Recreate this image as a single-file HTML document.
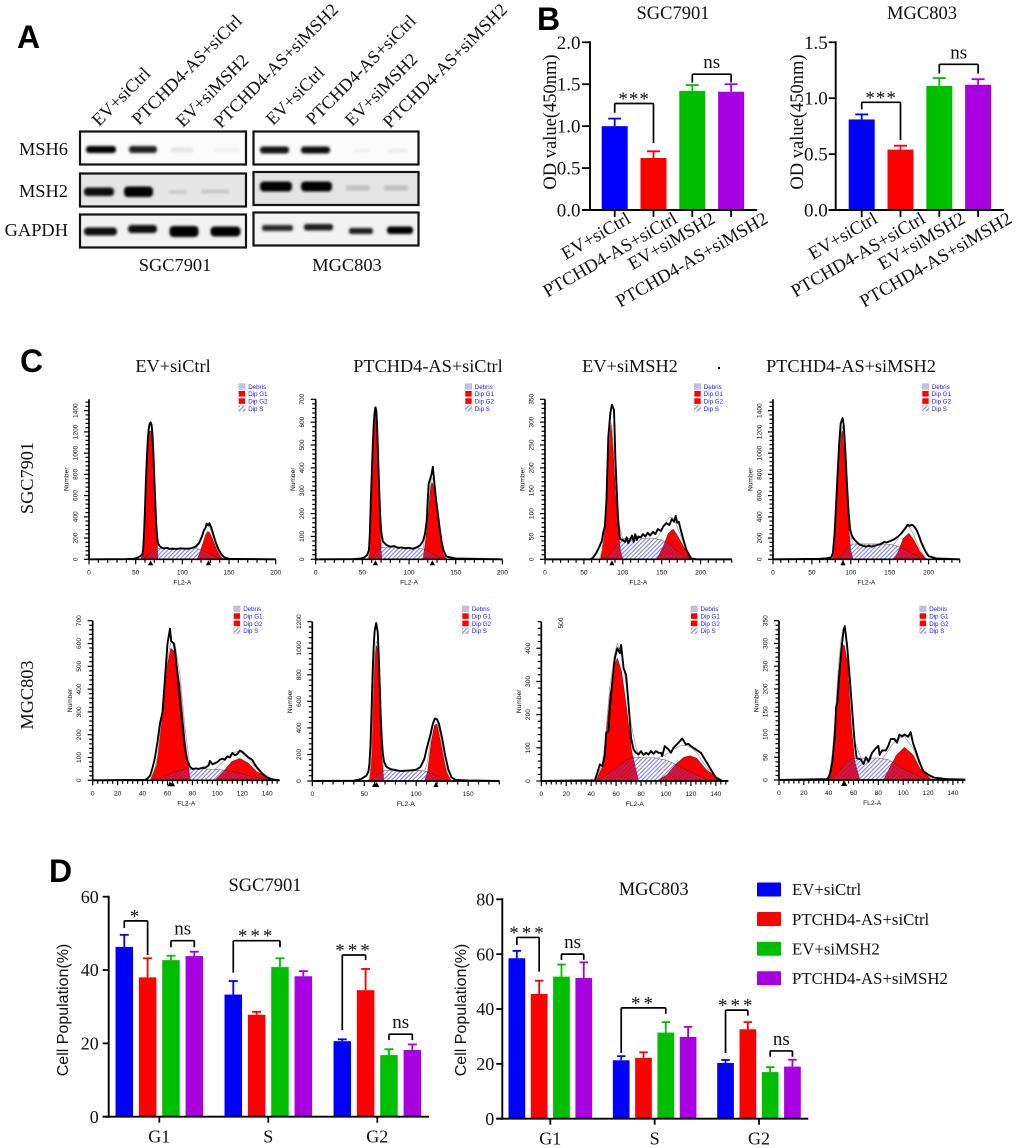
<!DOCTYPE html>
<html lang="en">
<head>
<meta charset="utf-8">
<title>PTCHD4-AS and MSH2 figure</title>
<style>
html,body{margin:0;padding:0;background:#fff;}
svg{display:block;}
text{fill:#111;}
.serif{font-family:"Liberation Serif",serif;}
.sans{font-family:"Liberation Sans",sans-serif;}
.panel{font-family:"Liberation Sans",sans-serif;font-weight:bold;font-size:32px;fill:#000;}
.blot-label{font-family:"Liberation Serif",serif;font-size:18.4px;}
</style>
</head>
<body>
<svg id="figure" xmlns="http://www.w3.org/2000/svg" width="1020" height="1148" viewBox="0 0 1020 1148">
<defs>
  <filter id="band-blur" x="-20%" y="-80%" width="140%" height="260%"><feGaussianBlur stdDeviation="1.3"/></filter>
  <filter id="soft" x="-2%" y="-2%" width="104%" height="104%"><feGaussianBlur stdDeviation="0.25"/></filter>
  <pattern id="s-hatch" width="3" height="3" patternUnits="userSpaceOnUse" patternTransform="rotate(45)">
    <rect width="1.1" height="3" fill="#4a4ae0" opacity="0.7"/>
  </pattern>
</defs>
<rect width="1020" height="1148" fill="#fff"/>

<text class="panel" x="17" y="48">A</text>
<text class="panel" x="537" y="30">B</text>
<text class="panel" x="20" y="372">C</text>
<text class="panel" x="49" y="882">D</text>

<g>
  <g class="serif" style="font-size:18px">
    <text transform="translate(99,127) rotate(-45)">EV+siCtrl</text>
    <text transform="translate(139,126) rotate(-45)">PTCHD4-AS+siCtrl</text>
    <text transform="translate(183,128) rotate(-45)">EV+siMSH2</text>
    <text transform="translate(221,129) rotate(-45)">PTCHD4-AS+siMSH2</text>
    <text transform="translate(273,126) rotate(-45)">EV+siCtrl</text>
    <text transform="translate(313,126) rotate(-45)">PTCHD4-AS+siCtrl</text>
    <text transform="translate(352,127) rotate(-45)">EV+siMSH2</text>
    <text transform="translate(390,129) rotate(-45)">PTCHD4-AS+siMSH2</text>
  </g>
  <text class="blot-label" x="68" y="155" text-anchor="end">MSH6</text>
  <text class="blot-label" x="68" y="197" text-anchor="end">MSH2</text>
  <text class="blot-label" x="68" y="236" text-anchor="end">GAPDH</text>
  <text class="blot-label" x="175" y="271" text-anchor="middle">SGC7901</text>
  <text class="blot-label" x="347" y="271" text-anchor="middle">MGC803</text>

  <rect x="80" y="131.5" width="166" height="33" fill="#fbfbfb" stroke="#111" stroke-width="2.2"/>
  <rect x="80" y="173.5" width="166" height="33" fill="#e6e6e6" stroke="#111" stroke-width="2.2"/>
  <rect x="80" y="214.5" width="166" height="33" fill="#f2f2f2" stroke="#111" stroke-width="2.2"/>
  <rect x="253.5" y="131.5" width="165" height="33" fill="#fbfbfb" stroke="#111" stroke-width="2.2"/>
  <rect x="253.5" y="172" width="165" height="33" fill="#e4e4e4" stroke="#111" stroke-width="2.2"/>
  <rect x="253.5" y="212.5" width="165" height="33" fill="#f3f3f3" stroke="#111" stroke-width="2.2"/>

  <g filter="url(#band-blur)">
    <rect x="86" y="146" width="30" height="7" rx="3" fill="#050505"/>
    <rect x="129" y="146" width="28" height="7" rx="3" fill="#202020"/>
    <rect x="171" y="147.5" width="22" height="5" rx="2" fill="#e4e4e4"/>
    <rect x="214" y="148.5" width="26" height="3.5" rx="1.5" fill="#f1f1f1"/>
    <rect x="84" y="187.5" width="30" height="8.5" rx="3.5" fill="#111"/>
    <rect x="124" y="186.5" width="29" height="10.5" rx="4" fill="#030303"/>
    <rect x="169" y="190" width="18" height="4" rx="1.5" fill="#cccccc"/>
    <rect x="201" y="189.5" width="28" height="4" rx="1.5" fill="#c8c8c8"/>
    <rect x="84" y="227.5" width="33" height="8" rx="3.5" fill="#0a0a0a"/>
    <rect x="128" y="225" width="29" height="8" rx="3.5" fill="#0d0d0d"/>
    <rect x="169.5" y="226" width="29" height="11" rx="4" fill="#000"/>
    <rect x="210.5" y="226.5" width="30" height="10" rx="4" fill="#030303"/>
    <rect x="260" y="146.5" width="29" height="7" rx="3" fill="#141414"/>
    <rect x="301" y="146.5" width="29" height="7" rx="3" fill="#0c0c0c"/>
    <rect x="353" y="149" width="17" height="3.5" rx="1.5" fill="#f0f0f0"/>
    <rect x="388" y="149" width="20" height="3.5" rx="1.5" fill="#ebebeb"/>
    <rect x="260" y="181.5" width="32" height="10" rx="4" fill="#020202"/>
    <rect x="301" y="181.5" width="31" height="10" rx="4" fill="#020202"/>
    <rect x="346" y="185.5" width="24" height="5" rx="2" fill="#c0c0c0"/>
    <rect x="384" y="185.5" width="24" height="5" rx="2" fill="#c0c0c0"/>
    <rect x="262" y="225" width="31" height="6" rx="2.5" fill="#2a2a2a"/>
    <rect x="304" y="224" width="29" height="6.5" rx="2.5" fill="#1a1a1a"/>
    <rect x="349" y="228" width="24" height="6" rx="2.5" fill="#1a1a1a"/>
    <rect x="387" y="226.5" width="26" height="7.5" rx="3" fill="#050505"/>
  </g>
</g>

<text class="serif" style="font-size:18.3px" transform="translate(33,478) rotate(-90)" text-anchor="middle">SGC7901</text>
<text class="serif" style="font-size:18.3px" transform="translate(33,695) rotate(-90)" text-anchor="middle">MGC803</text>
<g class="serif" style="font-size:18.3px">
  <text x="173" y="372" text-anchor="middle">EV+siCtrl</text>
  <text x="428" y="372" text-anchor="middle">PTCHD4-AS+siCtrl</text>
  <text x="630" y="372" text-anchor="middle">EV+siMSH2</text>
  <text x="851" y="372" text-anchor="middle">PTCHD4-AS+siMSH2</text>
</g>
<rect x="718" y="367" width="2" height="2" fill="#111"/>

<g>
  <rect x="757" y="882.5" width="24" height="14" rx="1" fill="#0000ff"/>
  <rect x="757" y="912" width="24" height="14" rx="1" fill="#ff0000"/>
  <rect x="757" y="941.7" width="24" height="14" rx="1" fill="#00bf00"/>
  <rect x="757" y="971.3" width="24" height="14" rx="1" fill="#a800e0"/>
  <g class="serif" style="font-size:16.8px">
    <text x="792" y="895">EV+siCtrl</text>
    <text x="792" y="925">PTCHD4-AS+siCtrl</text>
    <text x="792" y="954.5">EV+siMSH2</text>
    <text x="792" y="984">PTCHD4-AS+siMSH2</text>
  </g>
</g>
</svg>

<script>
/* ---------- shared categories ---------- */
const treatments = ['EV+siCtrl', 'PTCHD4-AS+siCtrl', 'EV+siMSH2', 'PTCHD4-AS+siMSH2'];
const phases = ['G1', 'S', 'G2'];
const barColors = ['#0000ff', '#ff0000', '#00bf00', '#a800e0'];

/* ---------- panel B: OD value ---------- */
const odSgcMeans = [1.00, 0.62, 1.42, 1.41];
const odSgcErrors = [0.09, 0.08, 0.07, 0.09];
const odMgcMeans = [0.81, 0.54, 1.11, 1.12];
const odMgcErrors = [0.045, 0.035, 0.07, 0.05];
const odSgcTicks = ['0.0', '0.5', '1.0', '1.5', '2.0'];
const odMgcTicks = ['0.0', '0.5', '1.0', '1.5'];
/* bracket rows: group, first bar, last bar, left end, top, right end, label */
const odSgcBrackets = [[0, 0, 1, 1.16, 1.27, 0.80, '***'], [0, 2, 3, 1.52, 1.62, 1.52, 'ns']];
const odMgcBrackets = [[0, 0, 1, 0.90, 0.963, 0.626, '***'], [0, 2, 3, 1.22, 1.303, 1.22, 'ns']];

/* ---------- panel D: cell population ---------- */
const popSgcMeans = [[46.3, 38.0, 42.7, 43.8], [33.3, 27.8, 40.8, 38.3], [20.6, 34.5, 16.8, 18.2]];
const popSgcErrors = [[3.3, 5.2, 1.2, 1.2], [3.7, 0.8, 2.4, 1.4], [0.5, 5.8, 1.6, 1.5]];
const popMgcMeans = [[58.5, 45.5, 51.8, 51.3], [21.3, 22.2, 31.4, 29.8], [20.3, 32.6, 17.0, 19.0]];
const popMgcErrors = [[2.7, 4.8, 4.4, 5.7], [1.5, 2.0, 3.8, 3.7], [1.1, 2.6, 1.8, 2.5]];
const popSgcTicks = ['0', '20', '40', '60'];
const popMgcTicks = ['0', '20', '40', '60', '80'];
const popSgcBrackets = [
  [0, 0, 1, 51.5, 53.4, 44.1, '*'], [0, 2, 3, 46.2, 48.0, 46.2, 'ns'],
  [1, 0, 2, 39.3, 48.0, 46.2, '***'], [2, 0, 1, 23.6, 44.1, 42.7, '***'], [2, 2, 3, 20.9, 22.5, 20.9, 'ns']];
const popMgcBrackets = [
  [0, 0, 1, 63.3, 66.1, 53.6, '***'], [0, 2, 3, 57.9, 60.0, 57.9, 'ns'],
  [1, 0, 2, 24.0, 40.4, 38.2, '**'], [2, 0, 1, 23.9, 39.6, 37.6, '***'], [2, 2, 3, 22.6, 24.7, 22.6, 'ns']];

/* ---------- panel C: flow histograms, [channel, count] ---------- */
const histLegend = ['Debris', 'Dip G1', 'Dip G2', 'Dip S'];

const h1Outline = [[0,0],[40,2],[48,5],[52,15],[55,30],[57,45],[58,90],[59,250],[60,480],[61,750],[62,950],[63,1130],[64,1230],[65,1280],[66,1290],[67,1270],[68,1180],[69,1000],[70,760],[71,540],[72,340],[73,210],[74,150],[76,120],[78,110],[80,102],[84,108],[86,98],[90,100],[94,96],[98,103],[102,100],[106,100],[110,105],[114,118],[118,155],[121,215],[123,270],[125,300],[126,335],[128,320],[129,340],[131,300],[133,240],[135,180],[137,130],[139,90],[142,45],[145,18],[150,5],[160,3],[175,2],[200,0]];
const h1G1 = [[56,0],[58,70],[60,380],[62,850],[63.5,1120],[65,1205],[66.5,1210],[68,1080],[69.5,820],[71,480],[72.5,210],[74,0]];
const h1G2 = [[116,0],[119,70],[122,150],[125,235],[127,262],[129,255],[132,200],[135,130],[138,70],[141,25],[144,0]];
const h1S = [[56,0],[60,20],[65,50],[70,85],[75,103],[85,105],[100,105],[110,104],[118,95],[125,70],[132,40],[138,15],[144,0]];
const h1Markers = [66, 128];

const h2Outline = [[0,0],[40,1],[48,3],[52,8],[55,18],[57,40],[58,110],[59,250],[60,370],[61,480],[62,580],[63,640],[64,665],[65,650],[66,560],[67,430],[68,310],[69,200],[70,130],[71,100],[72,78],[74,70],[76,62],[80,55],[84,58],[88,50],[92,52],[96,48],[100,50],[104,46],[108,52],[112,62],[115,80],[117,110],[119,170],[120,260],[121,330],[122.5,350],[124,370],[125.5,405],[127,340],[129,260],[131,195],[133,130],[135,75],[137,38],[140,12],[150,4],[170,2],[200,0]];
const h2G1 = [[56.5,0],[58,50],[59.5,240],[61,400],[62,520],[63,620],[64,640],[65,620],[66,500],[67,380],[68,270],[69,130],[70,40],[71,0]];
const h2G2 = [[115,0],[117,60],[119,130],[121,215],[123,310],[124.5,337],[126,325],[128,270],[130,210],[132,145],[134,85],[136,35],[139,0]];
const h2S = [[57,0],[62,15],[66,35],[70,50],[75,53],[90,52],[110,50],[118,42],[125,25],[132,10],[138,0]];
const h2Markers = [64, 125];

const h3Outline = [[0,0],[58,0],[62,4],[66,14],[70,28],[73,40],[75,60],[77,72],[79,130],[81.4,268],[84,320],[86,338],[88.7,327],[90.5,220],[92.9,123],[94.5,75],[96.4,45],[100,42],[103,38],[105,48],[107,35],[110,45],[112,52],[114,38],[116,55],[118,42],[120,50],[123,48],[126,55],[129,50],[132,58],[135,52],[139,60],[142,55],[145,66],[149,62],[152,72],[156,79],[160,75],[163,88],[166,82],[168,95],[170,80],[172,82],[174,68],[176,55],[179,36],[182,20],[185,10],[188,2],[195,0],[240,0]];
const h3G1 = [[71.5,0],[75,42],[79,123],[81,200],[82.7,276],[84.8,294],[86,275],[87.8,232],[91.3,123],[94.2,57],[97,20],[100,0]];
const h3G2 = [[143.5,0],[152,28],[158.5,57],[165,66],[171,50],[178,28],[188,0]];
const h3S = [[72,0],[80,6],[90,25],[96,40],[100,45],[110,46],[140,46],[150,42],[160,33],[170,18],[180,6],[190,0]];
const h3Markers = [86];

const h4Outline = [[0,0],[60,5],[70,10],[75,20],[77,60],[79,230],[81,500],[83,800],[85,1080],[87,1280],[89.5,1330],[91,1260],[93,1020],[95,720],[97,460],[99,290],[101,230],[103,200],[106,175],[110,145],[113,135],[116,125],[120,120],[124,128],[127,118],[130,125],[134,135],[137,140],[140,150],[143,165],[146,158],[150,170],[155,185],[160,210],[165,245],[170,290],[173,325],[176,315],[178,325],[180,320],[183,295],[185,270],[188,215],[190,170],[193,120],[195,90],[198,50],[200,30],[210,8],[240,0]];
const h4G1 = [[76.7,0],[79.7,214],[84,843],[87.5,1190],[89.5,1210],[92.5,905],[96.8,371],[99.8,88],[103,0]];
const h4G2 = [[154.6,0],[161,72],[167.5,198],[174.7,245],[181,182],[189,72],[197.4,0]];
const h4S = [[78,0],[84,15],[90,50],[96,110],[100,135],[105,145],[140,145],[150,140],[160,125],[170,90],[180,50],[190,15],[197,0]];
const h4Markers = [90];

const h5Outline = [[0,0],[42,2],[44,8],[46,20],[48,55],[50,100],[52,170],[54,250],[56,300],[58,450],[60,600],[62,665],[63,610],[65,600],[66,570],[68,470],[70,340],[72,240],[74,140],[76,85],[78,60],[80,50],[83,52],[85,50],[88,55],[90,55],[93,65],[94,85],[96,70],[98,75],[100,80],[102,90],[104,95],[106,90],[108,105],[110,100],[112,120],[114,110],[116,115],[118,130],[120,125],[122,115],[125,100],[128,90],[130,70],[132,55],[136,30],[140,12],[145,3],[150,0]];
const h5G1 = [[46,0],[51.3,67],[55.3,257],[59.4,491],[62.6,579],[66,564],[70,419],[74,184],[78,9],[79,0]];
const h5G2 = [[98,0],[104.8,38],[111.5,82],[118,96],[124.9,75],[131.6,38],[145,0]];
const h5S = [[46,0],[55,10],[65,35],[75,50],[90,50],[105,45],[115,35],[125,20],[135,8],[145,0]];
const h5Markers = [62, 64];

const h6Outline = [[0,0],[40,2],[47,15],[52,40],[54,70],[55,130],[56,270],[57,520],[58,800],[59,1000],[60,1130],[61.5,1190],[63,1120],[64,930],[65,700],[66,460],[67,300],[68,200],[69,150],[71,110],[75,90],[80,82],[85,75],[90,78],[95,80],[100,85],[104,105],[106,135],[108,170],[110,240],[112,300],[114,360],[116,430],[118,470],[120,465],[122,430],[125,320],[128,190],[131,85],[134,28],[138,8],[150,4],[180,0]];
const h6G1 = [[54.7,0],[56.9,146],[58.5,648],[60.4,975],[61.7,1020],[63.3,975],[64.9,648],[66.5,221],[68.8,0]];
const h6G2 = [[108,0],[111,70],[114.5,296],[117.7,422],[120,427],[124,271],[129,70],[133.7,0]];
const h6S = [[55,0],[62,40],[68,75],[72,80],[105,80],[112,65],[118,45],[125,20],[133,0]];
const h6Markers = [60, 62, 119];

const h7Outline = [[0,0],[43,2],[45,25],[47,50],[49,45],[51,80],[52,145],[54,150],[55,220],[57,300],[59,370],[61,400],[63,385],[64,410],[66,340],[68,320],[70,230],[72,130],[74,95],[76,85],[78,80],[80,90],[82,78],[84,85],[86,80],[88,90],[90,82],[92,90],[94,85],[96,85],[97,75],[99,105],[102,95],[104,85],[106,100],[110,115],[113,128],[116,110],[118,112],[120,105],[122,100],[124,95],[126,90],[128,85],[132,60],[136,35],[140,10],[145,0],[150,0]];
const h7G1 = [[43.6,0],[49.7,48],[55,260],[59,351],[61,371],[64.4,330],[68.4,220],[72.5,89],[77.8,3],[79,0]];
const h7G2 = [[92.5,0],[100.5,18],[108.6,53],[114,71],[119,76],[124.6,69],[132.6,33],[146,0]];
const h7S = [[44,0],[55,25],[65,55],[72,70],[90,70],[100,63],[108,50],[118,30],[128,12],[140,0]];
const h7Markers = [];

const h8Outline = [[0,0],[39,2],[41,12],[43,40],[45,100],[46,160],[47,170],[48,210],[50,280],[52,330],[53,338],[55,290],[57,223],[59,150],[60,113],[61,80],[62.5,48],[66,45],[68,35],[70,50],[72,40],[75,60],[78,70],[80,75],[81,55],[83,65],[86,65],[88,75],[90,90],[93,90],[95,82],[97,100],[99,96],[101,100],[104,95],[106,105],[108,80],[110,65],[113,40],[116,20],[120,12],[125,5],[135,2],[150,1]];
const h8G1 = [[39,0],[42.4,34],[45,118],[47.7,228],[50.4,294],[52.5,297],[55,261],[58.4,114],[61,41],[65,1],[66,0]];
const h8G2 = [[84,0],[89,26],[94.6,55],[101,72],[108,55],[113.4,26],[123,0]];
const h8S = [[40,0],[48,20],[55,42],[60,48],[80,48],[88,45],[95,33],[105,18],[115,5],[122,0]];
const h8Markers = [52, 53];

/* ---------- helpers ---------- */
const svg = document.getElementById('figure');
const NS = 'http://www.w3.org/2000/svg';

function mk(tag, attrs, parent) {
  const node = document.createElementNS(NS, tag);
  for (const k in attrs) node.setAttribute(k, attrs[k]);
  parent.appendChild(node);
  return node;
}
function label(parent, x, y, str, cls, size, anchor, transform) {
  const attrs = { class: cls, style: 'font-size:' + size + 'px', 'text-anchor': anchor };
  if (transform) attrs.transform = transform; else { attrs.x = x; attrs.y = y; }
  const t = mk('text', attrs, parent);
  t.textContent = str;
  return t;
}
function interp(points, x) {
  if (x <= points[0][0] || x >= points[points.length - 1][0]) return 0;
  for (let i = 1; i < points.length; i++) {
    if (x <= points[i][0]) {
      const a = points[i - 1], b = points[i];
      return a[1] + (b[1] - a[1]) * (x - a[0]) / (b[0] - a[0]);
    }
  }
  return 0;
}

/* ---------- bar charts ---------- */
function drawBarChart(c) {
  const g = mk('g', {}, svg);
  
  

  const yScale = v => c.y0 - (v / c.yMax) * (c.y0 - c.yTop);
  const groupX = gi => c.firstGroupX + gi * c.groupStep;
  const barX = (gi, si) => groupX(gi) + (si - 1.5) * c.barStep;

  c.means.forEach((row, gi) => {
    row.forEach((mean, si) => {
      const cx = barX(gi, si);
      const color = barColors[si];
      const top = yScale(mean);
      const errTop = yScale(mean + c.errors[gi][si]);

      const bar = mk('rect', { x: cx - c.barWidth / 2, y: top, width: c.barWidth, height: c.y0 - top, fill: color }, g);
      
      

      const stem = mk('line', { x1: cx, x2: cx, y1: top, y2: errTop, stroke: color, 'stroke-width': 1.8 }, g);
      
      

      const cap = mk('line', { x1: cx - c.capWidth / 2, x2: cx + c.capWidth / 2, y1: errTop, y2: errTop, stroke: color, 'stroke-width': 1.8 }, g);
      
      
    });
  });

  const yAxis = mk('line', { x1: c.x0, x2: c.x0, y1: c.yTop - 1, y2: c.y0 + 1, stroke: '#000', 'stroke-width': 1.9 }, g);
  
  

  const xAxis = mk('line', { x1: c.x0 - c.tickLen, x2: c.xEnd, y1: c.y0, y2: c.y0, stroke: '#000', 'stroke-width': 1.9 }, g);
  
  

  c.yTicks.forEach((text, i) => {
    const yy = yScale(Number(text));
    const tick = mk('line', { x1: c.x0 - c.tickLen, x2: c.x0, y1: yy, y2: yy, stroke: '#000', 'stroke-width': 1.8 }, g);
    
    

    const t = label(g, c.x0 - c.tickLen - c.labelGap, yy + c.fontSize * 0.34, text, 'serif', c.fontSize, 'end');
    
    
  });

  if (c.perBar) {
    c.xLabels.forEach((text, si) => {
      const cx = barX(0, si);
      const tick = mk('line', { x1: cx, x2: cx, y1: c.y0, y2: c.y0 + 7, stroke: '#000', 'stroke-width': 1.8 }, g);
      
      

      const ex = cx + c.labelShift[si];
      const t = label(g, 0, 0, text, 'serif', c.xFontSize, 'end', 'translate(' + ex + ',' + (c.y0 + 12) + ') rotate(-30)');
      
      
    });
  } else {
    c.xLabels.forEach((text, gi) => {
      const cx = groupX(gi);
      const tick = mk('line', { x1: cx, x2: cx, y1: c.y0, y2: c.y0 + 6, stroke: '#000', 'stroke-width': 1.8 }, g);
      
      

      const t = label(g, cx, c.y0 + 26, text, 'serif', c.xFontSize, 'middle');
      
      
    });
  }

  const yTitle = label(g, 0, 0, c.yTitle, c.yTitleClass, c.yTitleSize, 'middle', 'translate(' + c.yTitleX + ',' + c.yTitleY + ') rotate(-90)');
  
  

  const title = label(g, c.titleX, c.titleY, c.title, 'serif', 18.5, 'middle');
  
  

  c.brackets.forEach(b => {
    const xa = barX(b[0], b[1]);
    const xb = barX(b[0], b[2]);
    const topY = yScale(b[4]);
    const path = mk('path', {
      d: 'M' + xa + ' ' + yScale(b[3]) + 'V' + (topY + 1) + 'Q' + xa + ' ' + topY + ' ' + (xa + 1) + ' ' + topY +
         'H' + (xb - 1) + 'Q' + xb + ' ' + topY + ' ' + xb + ' ' + (topY + 1) + 'V' + yScale(b[5]),
      fill: 'none', stroke: '#000', 'stroke-width': 1.7
    }, g);
    
    

    const isNs = b[6] === 'ns';
    const mark = label(g, (xa + xb) / 2, topY + (isNs ? -6 : 1.5), b[6], 'serif', 19, 'middle');
    if (!isNs) mark.setAttribute('letter-spacing', c.starSpacing);
    
    
  });
}

drawBarChart({
  name: 'od-chart-sgc7901', key: 'od-sgc', title: 'SGC7901', titleX: 673, titleY: 19,
  means: [odSgcMeans], errors: [odSgcErrors], groupNames: ['all'], brackets: odSgcBrackets,
  yTicks: odSgcTicks, yMax: 2, xLabels: treatments, perBar: true, labelShift: [17, 25, 24, 38],
  x0: 590, xEnd: 757, y0: 210, yTop: 42.3, firstGroupX: 672.9, groupStep: 0, barStep: 38.8, barWidth: 26, capWidth: 13,
  tickLen: 8, labelGap: 1.5, fontSize: 19, xFontSize: 18.5, starSpacing: 1,
  yTitle: 'OD value(450nm)', yTitleClass: 'serif', yTitleSize: 18.5, yTitleX: 556, yTitleY: 122
});
drawBarChart({
  name: 'od-chart-mgc803', key: 'od-mgc', title: 'MGC803', titleX: 922, titleY: 19,
  means: [odMgcMeans], errors: [odMgcErrors], groupNames: ['all'], brackets: odMgcBrackets,
  yTicks: odMgcTicks, yMax: 1.5, xLabels: treatments, perBar: true, labelShift: [17, 26, 27, 35],
  x0: 835.7, xEnd: 1004, y0: 210, yTop: 42.3, firstGroupX: 919.9, groupStep: 0, barStep: 38.8, barWidth: 26, capWidth: 13,
  tickLen: 7, labelGap: 1, fontSize: 19, xFontSize: 18.5, starSpacing: 1,
  yTitle: 'OD value(450nm)', yTitleClass: 'serif', yTitleSize: 18.5, yTitleX: 803, yTitleY: 122
});
drawBarChart({
  name: 'cell-population-chart-sgc7901', key: 'pop-sgc', title: 'SGC7901', titleX: 265, titleY: 891,
  means: popSgcMeans, errors: popSgcErrors, groupNames: phases, brackets: popSgcBrackets,
  yTicks: popSgcTicks, yMax: 60, xLabels: phases, perBar: false,
  x0: 108.7, xEnd: 429, y0: 1116.7, yTop: 896.7, firstGroupX: 159.3, groupStep: 109, barStep: 23.35, barWidth: 17.5, capWidth: 9,
  tickLen: 6, labelGap: 4, fontSize: 18, xFontSize: 18, starSpacing: 3,
  yTitle: 'Cell Population(%)', yTitleClass: 'sans', yTitleSize: 16, yTitleX: 68, yTitleY: 1010
});
drawBarChart({
  name: 'cell-population-chart-mgc803', key: 'pop-mgc', title: 'MGC803', titleX: 653.7, titleY: 895,
  means: popMgcMeans, errors: popMgcErrors, groupNames: phases, brackets: popMgcBrackets,
  yTicks: popMgcTicks, yMax: 80, xLabels: phases, perBar: false,
  x0: 502.3, xEnd: 808.3, y0: 1118.7, yTop: 899.3, firstGroupX: 550.3, groupStep: 104.35, barStep: 22.3, barWidth: 16.7, capWidth: 8.5,
  tickLen: 6, labelGap: 2, fontSize: 18, xFontSize: 18, starSpacing: 3,
  yTitle: 'Cell Population(%)', yTitleClass: 'sans', yTitleSize: 16, yTitleX: 466, yTitleY: 1010
});

/* ---------- flow histograms ---------- */
function drawHistogram(c) {
  const g = mk('g', { filter: 'url(#soft)' }, svg);
  
  

  const xScale = v => c.x0 + (v / c.xMax) * (c.x1 - c.x0);
  const yScale = v => c.y0 - (v / c.yMax) * (c.y0 - c.y1);
  const pts = arr => arr.map(p => xScale(p[0]).toFixed(2) + ',' + yScale(p[1]).toFixed(2)).join(' ');

  const g1 = mk('polygon', { points: pts(c.g1), fill: '#ff0000', stroke: '#300', 'stroke-width': 0.4 }, g);
  
  

  const g2 = mk('polygon', { points: pts(c.g2), fill: '#ff0000', stroke: '#300', 'stroke-width': 0.4 }, g);
  
  

  const s = mk('polygon', { points: pts(c.s), fill: 'url(#s-hatch)', stroke: '#222', 'stroke-width': 0.4 }, g);
  
  

  const channels = c.outline.map(p => p[0]);
  const fitPts = channels.map(x => [x, interp(c.g1, x) + interp(c.g2, x) + interp(c.s, x)]);
  const fit = mk('polyline', { points: pts(fitPts), fill: 'none', stroke: '#999', 'stroke-width': 0.7 }, g);
  
  

  const outline = mk('polyline', { points: pts(c.outline), fill: 'none', stroke: '#000', 'stroke-width': 1.9, 'stroke-linejoin': 'round' }, g);
  
  

  const xAxis = mk('line', { x1: c.x0, x2: c.x1, y1: c.y0, y2: c.y0, stroke: '#000', 'stroke-width': 1.7 }, g);
  
  

  const yAxis = mk('line', { x1: c.x0, x2: c.x0, y1: c.y1, y2: c.y0, stroke: '#000', 'stroke-width': 1.7 }, g);
  
  

  for (let v = 0; v <= c.xMax + 0.001; v += c.xMinor) {
    const major = Math.abs(v % c.xMajor) < 0.001;
    const tick = mk('line', { x1: xScale(v), x2: xScale(v), y1: c.y0, y2: c.y0 + (major ? 5 : 3.5), stroke: '#000', 'stroke-width': 1.2 }, g);
    
    
    if (major) {
      const t = label(g, xScale(v), c.y0 + 15, String(v), 'sans', 6.6, 'middle');
      
      
    }
  }
  for (let v = 0; v <= c.yMax + 0.001; v += c.yMinor) {
    const major = Math.abs(v % c.yMajor) < 0.001;
    const tick = mk('line', { x1: c.x0 - (major ? 5 : 3.5), x2: c.x0, y1: yScale(v), y2: yScale(v), stroke: '#000', 'stroke-width': 1.2 }, g);
    
    
    if (major) {
      const t = label(g, 0, 0, String(v), 'sans', 6.6, 'middle', 'translate(' + (c.x0 - 11.5) + ',' + yScale(v) + ') rotate(-90)');
      
      
    }
  }

  c.markers.forEach(m => {
    const mx = xScale(m);
    const tri = mk('polygon', { points: mx + ',' + (c.y0 + 1) + ' ' + (mx - 2.6) + ',' + (c.y0 + 6) + ' ' + (mx + 2.6) + ',' + (c.y0 + 6), fill: '#000' }, g);
    
    
  });

  const xt = label(g, (c.x0 + c.x1) / 2, c.y0 + 25, 'FL2-A', 'sans', 6.6, 'middle');
  
  

  const yt = label(g, 0, 0, 'Number', 'sans', 6.6, 'middle', 'translate(' + (c.x0 - 20.5) + ',' + ((c.y0 + c.y1) / 2) + ') rotate(-90)');
  
  

  histLegend.forEach((name, i) => {
    const cy = c.legendY + i * 7.3;
    const isHatch = i === 3;
    const swatch = mk('rect', {
      x: c.legendX, y: cy - 3, width: 6.4, height: 5.6,
      fill: i === 0 ? '#c0c0f0' : (isHatch ? 'url(#s-hatch)' : '#ff0000'),
      stroke: i === 0 ? '#aaa' : (isHatch ? '#bbb' : 'none'), 'stroke-width': 0.4
    }, g);
    
    

    const t = label(g, c.legendX + 9.5, cy + 2.2, name, 'sans', 6.2, 'start');
    t.style.fill = '#1a1aff';
    
    
  });
}

drawHistogram({ name: 'histogram-sgc7901-ev-sictrl', outline: h1Outline, g1: h1G1, g2: h1G2, s: h1S, markers: h1Markers,
  x0: 89, x1: 275.7, xMax: 200, xMajor: 50, xMinor: 10, y0: 559.3, y1: 399.3, yMax: 1507, yMajor: 200, yMinor: 40, legendX: 238.7, legendY: 386.7 });
drawHistogram({ name: 'histogram-sgc7901-ptchd4-sictrl', outline: h2Outline, g1: h2G1, g2: h2G2, s: h2S, markers: h2Markers,
  x0: 315.7, x1: 502.4, xMax: 200, xMajor: 50, xMinor: 10, y0: 559.3, y1: 399.3, yMax: 700, yMajor: 100, yMinor: 20, legendX: 465.3, legendY: 386.7 });
drawHistogram({ name: 'histogram-sgc7901-ev-simsh2', outline: h3Outline, g1: h3G1, g2: h3G2, s: h3S, markers: h3Markers,
  x0: 545, x1: 731.7, xMax: 240, xMajor: 50, xMinor: 10, y0: 559.3, y1: 399.3, yMax: 350, yMajor: 50, yMinor: 10, legendX: 694.3, legendY: 386.7 });
drawHistogram({ name: 'histogram-sgc7901-ptchd4-simsh2', outline: h4Outline, g1: h4G1, g2: h4G2, s: h4S, markers: h4Markers,
  x0: 773, x1: 959.7, xMax: 240, xMajor: 50, xMinor: 10, y0: 559.3, y1: 399.3, yMax: 1507, yMajor: 200, yMinor: 40, legendX: 922.3, legendY: 386.7 });
drawHistogram({ name: 'histogram-mgc803-ev-sictrl', outline: h5Outline, g1: h5G1, g2: h5G2, s: h5S, markers: h5Markers,
  x0: 92.7, x1: 279.7, xMax: 150, xMajor: 20, xMinor: 4, y0: 780.3, y1: 620.7, yMax: 700, yMajor: 100, yMinor: 20, legendX: 233.7, legendY: 609 });
drawHistogram({ name: 'histogram-mgc803-ptchd4-sictrl', outline: h6Outline, g1: h6G1, g2: h6G2, s: h6S, markers: h6Markers,
  x0: 312.3, x1: 499.3, xMax: 180, xMajor: 50, xMinor: 10, y0: 781, y1: 621.7, yMax: 1200, yMajor: 200, yMinor: 40, legendX: 462.3, legendY: 609 });
drawHistogram({ name: 'histogram-mgc803-ev-simsh2', outline: h7Outline, g1: h7G1, g2: h7G2, s: h7S, markers: h7Markers,
  x0: 541.3, x1: 728.3, xMax: 150, xMajor: 20, xMinor: 4, y0: 781, y1: 621.7, yMax: 480, yMajor: 100, yMinor: 20, legendX: 691, legendY: 609 });
drawHistogram({ name: 'histogram-mgc803-ptchd4-simsh2', outline: h8Outline, g1: h8G1, g2: h8G2, s: h8S, markers: h8Markers,
  x0: 779, x1: 965.3, xMax: 150, xMajor: 20, xMinor: 4, y0: 780, y1: 620.7, yMax: 350, yMajor: 50, yMinor: 10, legendX: 919.7, legendY: 609 });

const stray500 = label(svg, 0, 0, '500', 'sans', 6.6, 'middle', 'translate(563,623) rotate(-90)');


</script>
</body>
</html>
